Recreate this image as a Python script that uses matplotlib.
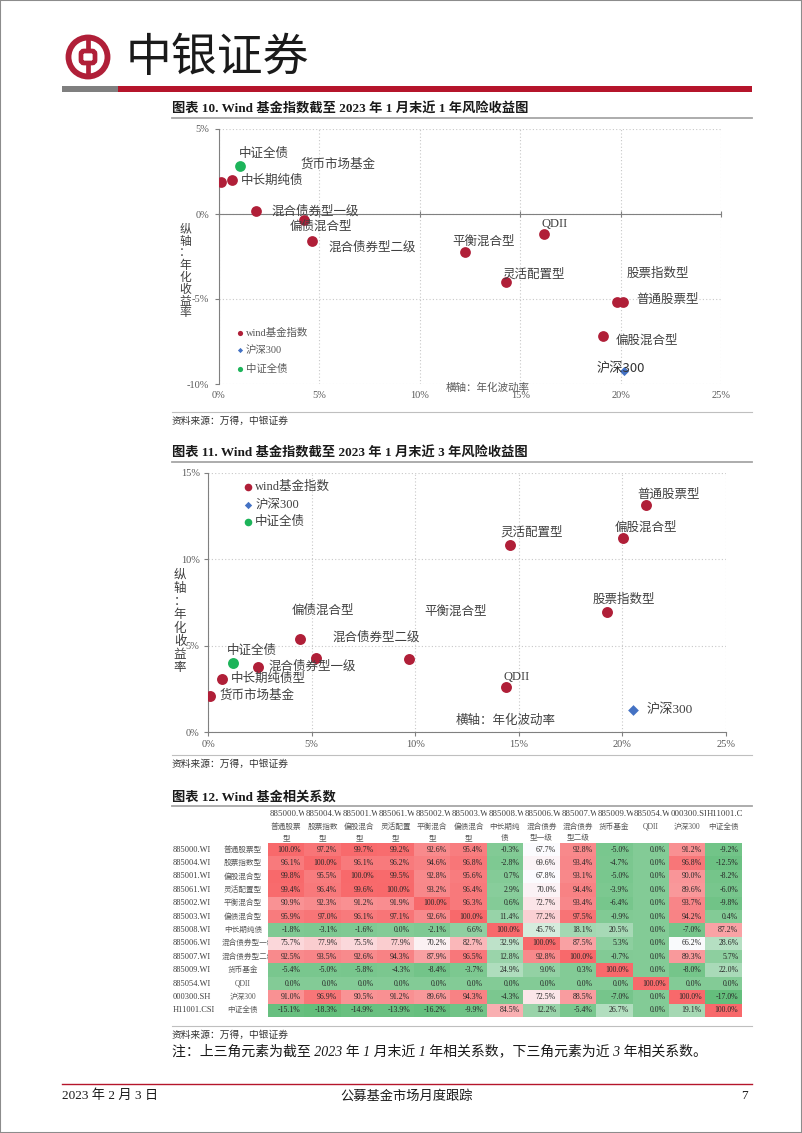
import numpy as np
import matplotlib
matplotlib.use('Agg')
import matplotlib.pyplot as plt
from matplotlib.colors import LinearSegmentedColormap, TwoSlopeNorm
from matplotlib.patches import Rectangle, Circle, FancyBboxPatch
from matplotlib.lines import Line2D
from matplotlib.ticker import FuncFormatter

W, H = 802, 1133
SERIF = ['Liberation Serif', 'Noto Sans CJK SC']
CJK = ['Noto Sans CJK SC', 'DejaVu Sans']
RED = '#B01F38'
plt.rcParams['font.family'] = SERIF

# ---- data: risk / return, 1 year (annualised vol %, annualised return %)
types_1y = ['普通股票型', '股票指数型', '偏股混合型', '灵活配置型', '平衡混合型', '偏债混合型',
            '中长期纯债', '混合债券型一级', '混合债券型二级', '货币市场基金', 'QDII']
vol_1y = [20.14, 19.82, 19.10, 14.30, 12.26, 4.21, 0.65, 1.83, 4.65, 0.11, 16.20]
ret_1y = [-5.17, -5.20, -7.20, -4.02, -2.23, -0.34, 1.99, 0.16, -1.56, 1.87, -1.18]
hs300_1y = [20.18, -9.25]
bond_1y = [1.07, 2.82]

# ---- data: risk / return, 3 years
types_3y = ['普通股票型', '股票指数型', '偏股混合型', '灵活配置型', '平衡混合型', '偏债混合型',
            '中长期纯债型', '混合债券型一级', '混合债券型二级', '货币市场基金', 'QDII']
vol_3y = [21.16, 19.28, 20.04, 14.58, 9.70, 4.43, 0.66, 2.42, 5.20, 0.11, 14.39]
ret_3y = [13.12, 6.93, 11.26, 10.81, 4.23, 5.41, 3.07, 3.78, 4.27, 2.06, 2.62]
hs300_3y = [20.52, 1.28]
bond_3y = [1.20, 4.00]

# label anchor positions (left, centre) in data units
lab_pos_1y = [(20.77, -5.07), (20.30, -3.49), (19.76, -7.47), (14.10, -3.53), (11.63, -1.62),
              (3.52, -0.77), (1.10, 1.97), (2.59, 0.16), (5.43, -2.00), (4.06, 2.88), (16.05, -0.57)]
lab_pos_3y = [(20.72, 13.74), (18.58, 7.63), (19.65, 11.84), (14.11, 11.55), (10.46, 6.95),
              (4.06, 7.00), (1.10, 3.07), (2.90, 3.78), (6.00, 5.49), (0.55, 2.10), (14.25, 3.16)]

# ---- data: correlation table (upper = 1y, lower = 3y)
codes = ['885000.WI', '885004.WI', '885001.WI', '885061.WI', '885002.WI', '885003.WI', '885008.WI',
         '885006.WI', '885007.WI', '885009.WI', '885054.WI', '000300.SH', 'H11001.CSI']
row_names = ['普通股票型', '股票指数型', '偏股混合型', '灵活配置型', '平衡混合型', '偏债混合型', '中长期纯债',
             '混合债券型一级', '混合债券型二级', '货币基金', 'QDII', '沪深300', '中证全债']
col_heads = [('普通股票', '型'), ('股票指数', '型'), ('偏股混合', '型'), ('灵活配置', '型'), ('平衡混合', '型'),
             ('偏债混合', '型'), ('中长期纯', '债'), ('混合债券', '型一级'), ('混合债券', '型二级'),
             ('货币基金', ''), ('QDII', ''), ('沪深300', ''), ('中证全债', '')]
corr = np.array([
    [100.0, 97.2, 99.7, 99.2, 92.6, 95.4, -0.3, 67.7, 92.8, -5.0, 0.0, 91.2, -9.2],
    [96.1, 100.0, 96.1, 96.2, 94.6, 96.8, -2.8, 69.6, 93.4, -4.7, 0.0, 96.8, -12.5],
    [99.8, 95.5, 100.0, 99.5, 92.8, 95.6, 0.7, 67.8, 93.1, -5.0, 0.0, 90.0, -8.2],
    [99.4, 96.4, 99.6, 100.0, 93.2, 96.4, 2.9, 70.0, 94.4, -3.9, 0.0, 89.6, -6.0],
    [90.9, 92.3, 91.2, 91.9, 100.0, 96.3, 0.6, 72.7, 93.4, -6.4, 0.0, 93.7, -9.8],
    [95.9, 97.0, 96.1, 97.1, 92.6, 100.0, 11.4, 77.2, 97.5, -0.9, 0.0, 94.2, 0.4],
    [-1.8, -3.1, -1.6, 0.0, -2.1, 6.6, 100.0, 45.7, 18.1, 20.5, 0.0, -7.0, 87.2],
    [75.7, 77.9, 75.5, 77.9, 70.2, 82.7, 32.9, 100.0, 87.5, 5.3, 0.0, 66.2, 28.6],
    [92.5, 93.5, 92.6, 94.3, 87.9, 96.5, 12.8, 92.8, 100.0, -0.7, 0.0, 89.3, 5.7],
    [-5.4, -5.0, -5.8, -4.3, -8.4, -3.7, 24.9, 9.0, 0.3, 100.0, 0.0, -8.0, 22.0],
    [0.0, 0.0, 0.0, 0.0, 0.0, 0.0, 0.0, 0.0, 0.0, 0.0, 100.0, 0.0, 0.0],
    [91.0, 96.9, 90.5, 91.2, 89.6, 94.3, -4.3, 72.5, 88.5, -7.0, 0.0, 100.0, -17.0],
    [-15.1, -18.3, -14.9, -13.9, -16.2, -9.9, 84.5, 12.2, -5.4, 26.7, 0.0, 19.1, 100.0],
])


def fy(y):
    return 1 - y / H


def add_axes(l, t, r, b):
    return fig.add_axes([l / W, 1 - b / H, (r - l) / W, (b - t) / H])


def hline(y, x0, x1, color, lw):
    fig.add_artist(Line2D([x0 / W, x1 / W], [fy(y), fy(y)], transform=fig.transFigure, color=color, lw=lw))


def ftext(x, y, s, **kw):
    fig.text(x / W, fy(y), s, **kw)


fig = plt.figure(figsize=(W / 100, H / 100), dpi=100)
fig.patch.set_facecolor('white')
fig.add_artist(Rectangle((0, 0), 1, 1, transform=fig.transFigure, fill=False, ec='#8c8c8c', lw=1.5))

# ---- page header
axl = add_axes(62, 31, 114, 83)
axl.set_xlim(-26, 26)
axl.set_ylim(-26, 26)
axl.set_aspect('equal')
axl.axis('off')
axl.add_patch(Circle((0, 0), 19.5, fill=False, ec=RED, lw=4.2))
axl.add_patch(FancyBboxPatch((-7, -6), 14, 12, boxstyle='round,pad=0,rounding_size=3', fill=False, ec=RED, lw=3.4))
axl.plot([0, 0], [6, 19.5], color=RED, lw=3.4, solid_capstyle='butt')
axl.plot([0, 0], [-19.5, -6], color=RED, lw=3.4, solid_capstyle='butt')
ftext(126, 58, '中银证券', family=CJK, fontsize=33, color='#1a1a1a', va='center', ha='left')
fig.add_artist(Rectangle((62 / W, fy(92)), (118 - 62) / W, 6 / H, transform=fig.transFigure, color='#7f7f7f', lw=0))
fig.add_artist(Rectangle((118 / W, fy(92)), (752 - 118) / W, 6 / H, transform=fig.transFigure, color='#B5152B', lw=0))


def section_title(y, s):
    ftext(172, y, s, fontsize=9.5, fontweight='bold', va='center', ha='left', color='#1a1a1a')
    hline(y + 9, 172, 752, '#a6a6a6', 1.3)


def source(y):
    hline(y - 9, 172, 752, '#bfbfbf', 0.8)
    ftext(172, y, '资料来源：万得，中银证券', fontsize=7, style='italic', va='center', ha='left', color='#333333')


pct = FuncFormatter(lambda v, p: f'{v:.0f}%')


def ylabel_chars(x, y0, y1, size):
    chars = '纵轴：年化收益率'
    for k, c in enumerate(chars):
        ftext(x, y0 + (y1 - y0) * k / (len(chars) - 1), c, family=CJK, fontsize=size,
              color='#404040', ha='center', va='center')


def style_grid(ax):
    ax.grid(True, ls=(0, (1, 2)), color='#c8c8c8', lw=0.8)
    ax.set_axisbelow(True)
    ax.xaxis.set_major_formatter(pct)
    ax.yaxis.set_major_formatter(pct)
    for s in ['top', 'right']:
        ax.spines[s].set_visible(False)
    ax.spines['left'].set_color('#808080')
    ax.spines['bottom'].set_color('#808080')
    ax.tick_params(labelsize=7.5, labelcolor='#595959', color='#808080', length=3, width=0.8)


# ---- chart 10: 1 year
section_title(109, '图表 10. Wind 基金指数截至 2023 年 1 月末近 1 年风险收益图')
ax1 = add_axes(219, 129, 721, 384)
ax1.set_xlim(0, 25)
ax1.set_ylim(-10, 5)
ax1.set_xticks(range(0, 26, 5))
ax1.set_yticks(range(-10, 6, 5))
style_grid(ax1)
ax1.spines['bottom'].set_position(('data', 0))
ax1.tick_params(axis='x', direction='inout', length=5, labelbottom=False)
ax1.tick_params(axis='y', pad=4)
for v in range(0, 26, 5):
    ax1.text(v, -10.7, f'{v}%', ha='center', va='center', fontsize=7.5, color='#595959')
ax1.scatter(vol_1y, ret_1y, s=60, color=RED, zorder=3, lw=0)
ax1.scatter(*bond_1y, s=60, color='#1DB45A', zorder=3, lw=0)
ax1.scatter(*hs300_1y, s=22, marker='D', color='#4472C4', zorder=3, lw=0)
for name, (lx, ly) in zip(types_1y, lab_pos_1y):
    ax1.text(lx, ly, name, fontsize=9, color='#404040', ha='left', va='center')
ax1.text(1.0, 3.55, '中证全债', fontsize=9, color='#404040', ha='left', va='center')
ax1.text(18.8, -9.1, '沪深300', family=CJK, fontsize=9.5, color='#333333', ha='left', va='center')
ax1.text(13.4, -10.2, '横轴：年化波动率', fontsize=7.6, color='#595959', ha='center', va='center')
for k, (lab, mk, col, sz) in enumerate([('wind基金指数', 'o', RED, 14), ('沪深300', 'D', '#4472C4', 7),
                                         ('中证全债', 'o', '#1DB45A', 14)]):
    yy = [-7.0, -8.0, -9.1][k]
    ax1.scatter(1.05, yy, s=sz, marker=mk, color=col, lw=0, zorder=3)
    ax1.text(1.35, yy, lab, fontsize=7.5, color='#595959', ha='left', va='center')
ylabel_chars(185, 229, 313, 8.5)
source(421)

# ---- chart 11: 3 years
section_title(453, '图表 11. Wind 基金指数截至 2023 年 1 月末近 3 年风险收益图')
ax2 = add_axes(208, 473, 726, 732)
ax2.set_xlim(0, 25)
ax2.set_ylim(0, 15)
ax2.set_xticks(range(0, 26, 5))
ax2.set_yticks(range(0, 16, 5))
style_grid(ax2)
ax2.tick_params(pad=3)
ax2.scatter(vol_3y, ret_3y, s=62, color=RED, zorder=3, lw=0)
ax2.scatter(*bond_3y, s=62, color='#1DB45A', zorder=3, lw=0)
ax2.scatter(*hs300_3y, s=30, marker='D', color='#4472C4', zorder=3, lw=0)
for name, (lx, ly) in zip(types_3y, lab_pos_3y):
    ax2.text(lx, ly, name, fontsize=9, color='#404040', ha='left', va='center')
ax2.text(0.92, 4.72, '中证全债', fontsize=9, color='#404040', ha='left', va='center')
ax2.text(21.16, 1.28, '沪深300', fontsize=9.5, color='#404040', ha='left', va='center')
ax2.text(14.35, 0.64, '横轴：年化波动率', fontsize=9, color='#404040', ha='center', va='center')
for k, (lab, mk, col, sz) in enumerate([('wind基金指数', 'o', RED, 30), ('沪深300', 'D', '#4472C4', 14),
                                         ('中证全债', 'o', '#1DB45A', 30)]):
    yy = [14.17, 13.16, 12.15][k]
    ax2.scatter(1.94, yy, s=sz, marker=mk, color=col, lw=0, zorder=3)
    ax2.text(2.27, yy, lab, fontsize=9, color='#404040', ha='left', va='center')
ylabel_chars(180, 575, 668, 9)
source(764)

# ---- table 12: correlations
section_title(797, '图表 12. Wind 基金相关系数')
ax3 = add_axes(268, 843, 742, 1017)
cmap = LinearSegmentedColormap.from_list('gwr', ['#63BE7B', '#FCFCFF', '#F8696B'])
norm = TwoSlopeNorm(vmin=corr.min(), vcenter=np.percentile(corr, 50), vmax=corr.max())
ax3.imshow(corr, cmap=cmap, norm=norm, aspect='auto', interpolation='nearest')
ax3.axis('off')
n = len(codes)
row_h = (1017 - 843) / n
col_w = (742 - 268) / n


def ty(px):
    return -0.5 + (px - 843) / row_h


def tx(px):
    return -0.5 + (px - 268) / col_w


for i in range(n):
    for j in range(n):
        ax3.text(j + 0.4, i, f'{corr[i, j]:.1f}%', ha='right', va='center', fontsize=5.6, color='#262626')
for j in range(n):
    t = ax3.text(j - 0.46, ty(814), codes[j], ha='left', va='center', fontsize=6.3, color='#404040', clip_on=True)
    t.set_clip_path(Rectangle((j - 0.5, ty(806)), 1, ty(822) - ty(806), transform=ax3.transData))
    l1, l2 = col_heads[j]
    ax3.text(j, ty(827), l1, ha='center', va='center', fontsize=5.5, color='#595959', clip_on=False)
    if l2:
        ax3.text(j, ty(838), l2, ha='center', va='center', fontsize=5.5, color='#595959', clip_on=False)
for i in range(n):
    ax3.text(tx(173), i, codes[i], ha='left', va='center', fontsize=6, color='#404040', clip_on=False)
    if len(row_names[i]) > 5:
        t = ax3.text(tx(222), i, row_names[i], ha='left', va='center', fontsize=5.5, color='#595959', clip_on=True)
    else:
        t = ax3.text(tx(243), i, row_names[i], ha='center', va='center', fontsize=5.5, color='#595959', clip_on=True)
    t.set_clip_path(Rectangle((tx(215), i - 0.5), tx(268) - tx(215), 1, transform=ax3.transData))
source(1035)
ftext(172, 1051, '注：上三角元素为截至 2023 年 1 月末近 1 年相关系数，下三角元素为近 3 年相关系数。',
      fontsize=10, style='italic', va='center', ha='left', color='#1a1a1a')

# ---- footer
hline(1084, 62, 752, '#B5152B', 1.0)
ftext(62, 1096, '2023 年 2 月 3 日', fontsize=9.5, va='center', ha='left', color='#1a1a1a')
ftext(407, 1096, '公募基金市场月度跟踪', fontsize=9.5, va='center', ha='center', color='#1a1a1a')
ftext(748, 1096, '7', fontsize=9.5, va='center', ha='right', color='#1a1a1a')

fig.savefig('out.png', dpi=100)
